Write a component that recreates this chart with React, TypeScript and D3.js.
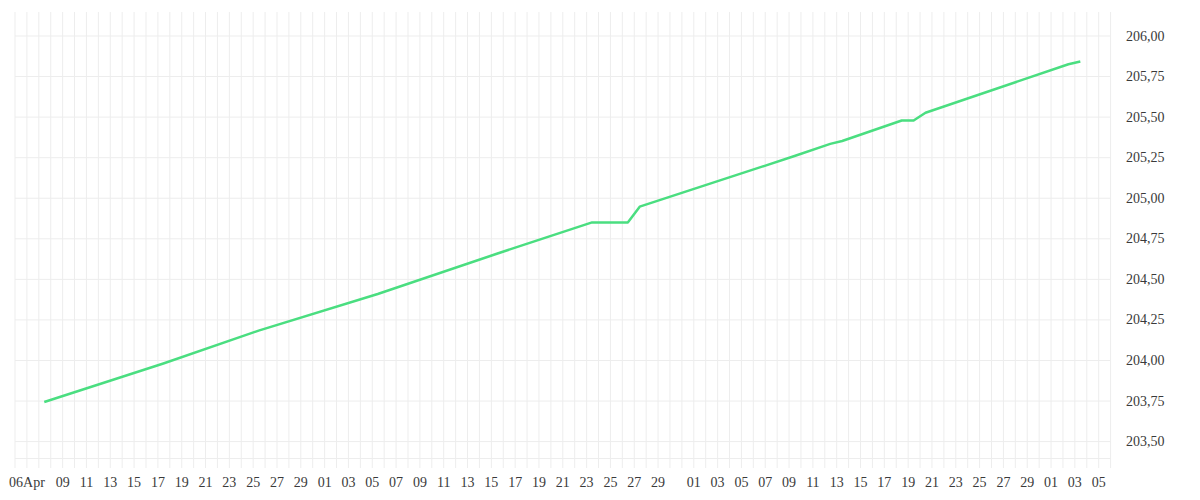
import React from "react"
import * as d3 from "d3"

// Daily series (timestamps sit a little before noon)
const priceDates = [
  "2025-04-07 11:00",
  "2025-04-17 11:00",
  "2025-04-25 11:00",
  "2025-05-05 11:00",
  "2025-05-15 11:00",
  "2025-05-23 11:00",
  "2025-05-26 11:00",
  "2025-05-27 11:00",
  "2025-06-09 11:00",
  "2025-06-12 11:00",
  "2025-06-13 11:00",
  "2025-06-18 11:00",
  "2025-06-19 11:00",
  "2025-06-20 11:00",
  "2025-07-02 11:00",
  "2025-07-03 11:00",
]
const priceValues = [
  203.744, 203.981, 204.184, 204.41, 204.658, 204.851, 204.851, 204.948, 205.26, 205.335, 205.353, 205.479,
  205.479, 205.527, 205.826, 205.843,
]

const xDomain = ["2025-04-05", "2025-07-06"]
const xTickDates = [
  "2025-04-06", "2025-04-09", "2025-04-11", "2025-04-13", "2025-04-15", "2025-04-17", "2025-04-19", "2025-04-21",
  "2025-04-23", "2025-04-25", "2025-04-27", "2025-04-29",
  "2025-05-01", "2025-05-03", "2025-05-05", "2025-05-07", "2025-05-09", "2025-05-11", "2025-05-13", "2025-05-15",
  "2025-05-17", "2025-05-19", "2025-05-21", "2025-05-23", "2025-05-25", "2025-05-27", "2025-05-29",
  "2025-06-01", "2025-06-03", "2025-06-05", "2025-06-07", "2025-06-09", "2025-06-11", "2025-06-13", "2025-06-15",
  "2025-06-17", "2025-06-19", "2025-06-21", "2025-06-23", "2025-06-25", "2025-06-27", "2025-06-29",
  "2025-07-01", "2025-07-03", "2025-07-05",
]
const xTickLabels = [
  "06Apr", "09", "11", "13", "15", "17", "19", "21", "23", "25", "27", "29",
  "01", "03", "05", "07", "09", "11", "13", "15", "17", "19", "21", "23", "25", "27", "29",
  "01", "03", "05", "07", "09", "11", "13", "15", "17", "19", "21", "23", "25", "27", "29",
  "01", "03", "05",
]
const yDomain = [203.5, 206]
const yTicks = [203.5, 203.75, 204, 204.25, 204.5, 204.75, 205, 205.25, 205.5, 205.75, 206]

const WIDTH = 1200
const HEIGHT = 500
const margin = { left: 15, right: 89.4, top: 12 }
const gridBottom = 468
const axisLineY = 458.5
const gridColor = "#ededed"
const lineColor = "#4ade80"
const font = "'Liberation Serif', serif"

const parseDay = d3.timeParse("%Y-%m-%d")
const parseStamp = d3.timeParse("%Y-%m-%d %H:%M")
const formatValue = (v: number) => d3.format(".2f")(v).replace(".", ",")

const App: React.FC = () => {
  const x = d3
    .scaleTime()
    .domain(xDomain.map((d) => parseDay(d) as Date))
    .range([margin.left, WIDTH - margin.right])
  const y = d3.scaleLinear().domain(yDomain).range([441.6, 36])

  const points = priceDates.map((d, i) => ({ date: parseStamp(d) as Date, value: priceValues[i] }))
  const line = d3
    .line<{ date: Date; value: number }>()
    .x((d) => x(d.date))
    .y((d) => y(d.value))

  // one vertical grid line per day
  const [d0, d1] = x.domain()
  const days = d3.timeDay.range(d0, d3.timeDay.offset(d1, 1))

  const x0 = margin.left
  const x1 = WIDTH - margin.right

  return (
    <svg width={WIDTH} height={HEIGHT} style={{ position: "absolute", left: 0, top: 0, background: "#fff" }}>
      {/* vertical grid */}
      <g>
        {days.map((d) => (
          <line
            key={d.getTime()}
            x1={x(d)}
            x2={x(d)}
            y1={margin.top}
            y2={gridBottom}
            stroke={gridColor}
            strokeWidth={1}
          />
        ))}
      </g>
      {/* horizontal grid */}
      <g>
        {yTicks.map((t) => (
          <line key={t} x1={x0} x2={x1} y1={y(t)} y2={y(t)} stroke={gridColor} strokeWidth={1} />
        ))}
        <line x1={x0} x2={x1} y1={axisLineY} y2={axisLineY} stroke={gridColor} strokeWidth={1} />
      </g>

      {/* series */}
      <path d={line(points) ?? ""} fill="none" stroke={lineColor} strokeWidth={2.5} strokeLinejoin="round" />

      {/* y labels on the right */}
      <g fontFamily={font} fontSize={14} fill="#3a3a3a">
        {yTicks.map((t) => (
          <text key={t} x={1126} y={y(t)} dominantBaseline="central">
            {formatValue(t)}
          </text>
        ))}
      </g>

      {/* x labels */}
      <g fontFamily={font} fontSize={14} fill="#3a3a3a" textAnchor="middle">
        {xTickDates.map((d, i) => (
          <text key={d} x={x(parseDay(d) as Date)} y={487}>
            {xTickLabels[i]}
          </text>
        ))}
      </g>
    </svg>
  )
}

export default App
